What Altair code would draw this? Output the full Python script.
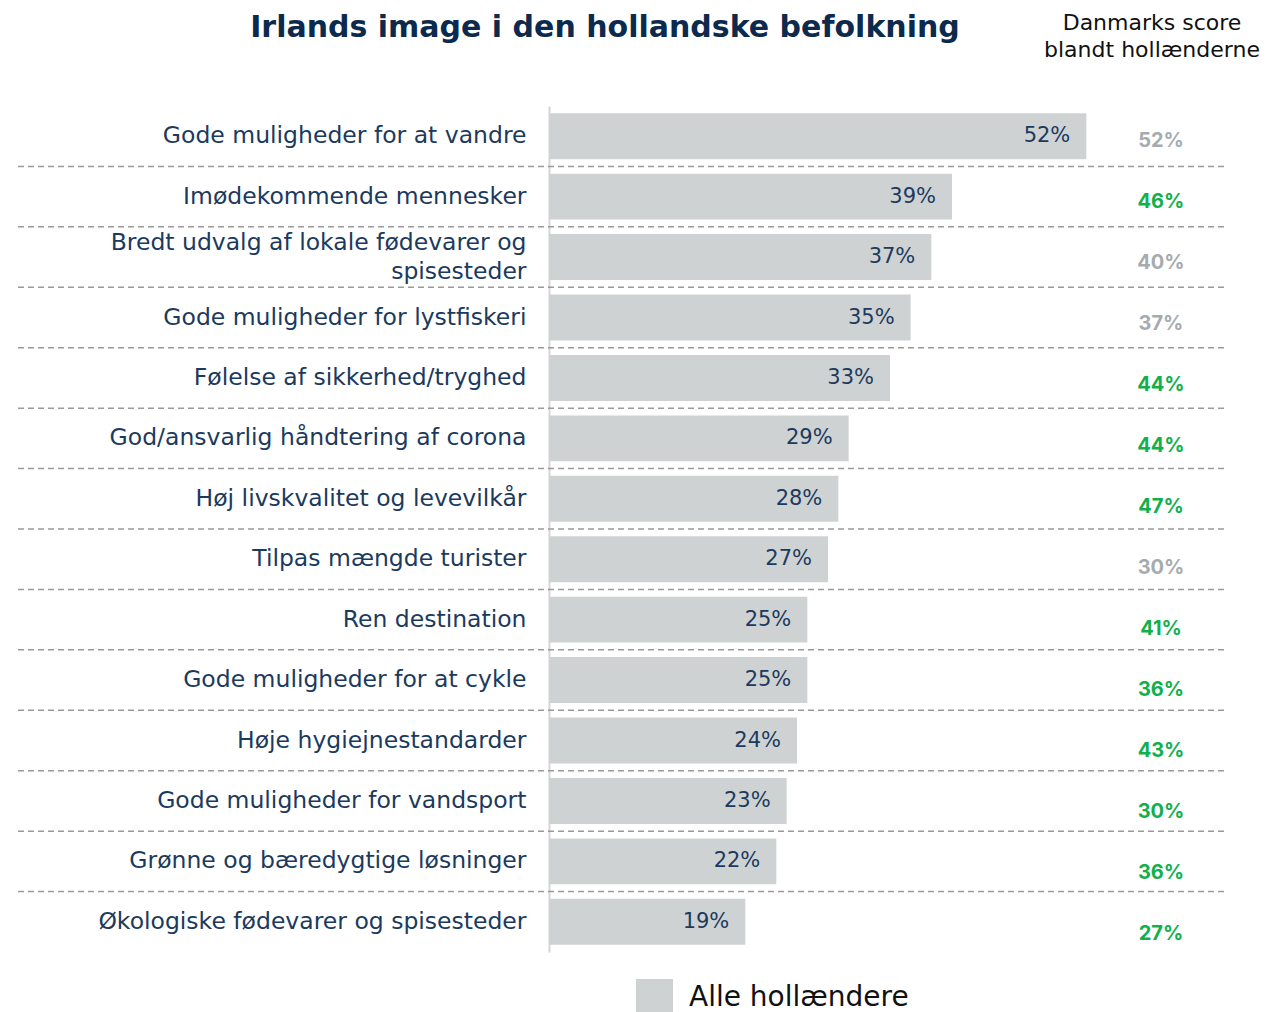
import altair as alt
import pandas as pd

categories = [
    "Gode muligheder for at vandre",
    "Imødekommende mennesker",
    "Bredt udvalg af lokale fødevarer og|spisesteder",
    "Gode muligheder for lystfiskeri",
    "Følelse af sikkerhed/tryghed",
    "God/ansvarlig håndtering af corona",
    "Høj livskvalitet og levevilkår",
    "Tilpas mængde turister",
    "Ren destination",
    "Gode muligheder for at cykle",
    "Høje hygiejnestandarder",
    "Gode muligheder for vandsport",
    "Grønne og bæredygtige løsninger",
    "Økologiske fødevarer og spisesteder",
]
irland = [52, 39, 37, 35, 33, 29, 28, 27, 25, 25, 24, 23, 22, 19]
danmark = [52, 46, 40, 37, 44, 44, 47, 30, 41, 36, 43, 30, 36, 27]
highlight = [False, True, False, False, True, True, True, False, True, True, True, True, True, True]

title_text = "Irlands image i den hollandske befolkning"
header_text = ["Danmarks score", "blandt hollænderne"]
legend_label = "Alle hollændere"

FONT = "DejaVu Sans"
FONT2 = "Inter"
NAVY = "#1b3a5e"
BAR = "#cfd2d3"
GREEN = "#12b04c"
GRAY = "#a6abaf"

df = pd.DataFrame({
    "cat": categories,
    "irland": irland,
    "danmark": danmark,
    "sig": highlight,
    "legend": [legend_label] * len(categories),
})
df["lbl"] = df["irland"].astype(str) + "%"
df["dk_lbl"] = df["danmark"].astype(str) + "%"

yband = alt.Y(
    "cat:N", sort=categories,
    scale=alt.Scale(domain=categories, paddingInner=0.24, paddingOuter=0.12),
    axis=alt.Axis(
        title=None, ticks=False, labelPadding=23, labelFontSize=23.5, labelFont=FONT,
        labelColor=NAVY, labelLimit=0, labelExpr="split(datum.label, '|')",
        labelLineHeight=29,
        labelOffset={"condition": {"test": "indexof(datum.value, '|') >= 0", "value": -14.5}, "value": 0},
        domainColor="#d6d6d6", domainWidth=2, grid=False,
    ),
)
xq = alt.X("irland:Q", scale=alt.Scale(domain=[0, 60]), axis=None)

base = alt.Chart(df)

bars = base.mark_bar().encode(
    y=yband, x=xq,
    color=alt.Color(
        "legend:N",
        scale=alt.Scale(domain=[legend_label], range=[BAR]),
        legend=alt.Legend(
            title=None, orient="none", legendX=87, legendY=873, symbolType="square",
            symbolSize=1369, symbolStrokeWidth=0, labelFontSize=28, labelFont=FONT,
            labelColor="#111111", labelOffset=16, padding=0, labelLimit=0,
        ),
    ),
)

bar_labels = base.mark_text(
    align="right", dx=-16, fontSize=21, font=FONT, color=NAVY, baseline="middle"
).encode(y=alt.Y("cat:N", sort=categories, scale=alt.Scale(domain=categories), axis=None), x=xq, text="lbl:N")

rules = alt.Chart(df.iloc[:-1]).mark_rule(
    color="#9a9a9a", strokeDash=[6, 4], strokeWidth=1.5
).encode(
    y=alt.Y("cat:N", sort=categories,
            scale=alt.Scale(domain=categories, paddingInner=0, paddingOuter=0),
            axis=None, bandPosition=1),
    x=alt.value(-531), x2=alt.value(676),
)

right_vals = base.mark_text(
    fontSize=20, font=FONT2, fontWeight="bold", baseline="middle", align="center"
).encode(
    y=alt.Y("cat:N", sort=categories,
            scale=alt.Scale(type="point", domain=categories, range=[35, 828], padding=0), axis=None),
    x=alt.value(612),
    text="dk_lbl:N",
    color=alt.condition("datum.sig", alt.value(GREEN), alt.value(GRAY)),
)

title = alt.Chart(pd.DataFrame({"t": [title_text]})).mark_text(
    fontSize=30, font=FONT, fontWeight="bold", color="#0c2a4d", align="center", baseline="top"
).encode(x=alt.value(56), y=alt.value(-93), text="t:N")

header = alt.Chart(pd.DataFrame({"t": [header_text]})).mark_text(
    fontSize=22, font=FONT, color="#111111", align="center", baseline="top", lineHeight=27
).encode(x=alt.value(603), y=alt.value(-93), text="t")

chart = alt.layer(rules, bars, bar_labels, right_vals, title, header).resolve_scale(
    y="independent"
).properties(
    width=620, height=846,
    autosize=alt.AutoSizeParams(type="none"),
    padding={"left": 541, "top": 98, "right": 96, "bottom": 70},
).configure_view(stroke=None)

chart.save("out.html", embed_options={"renderer": "svg", "actions": False})
